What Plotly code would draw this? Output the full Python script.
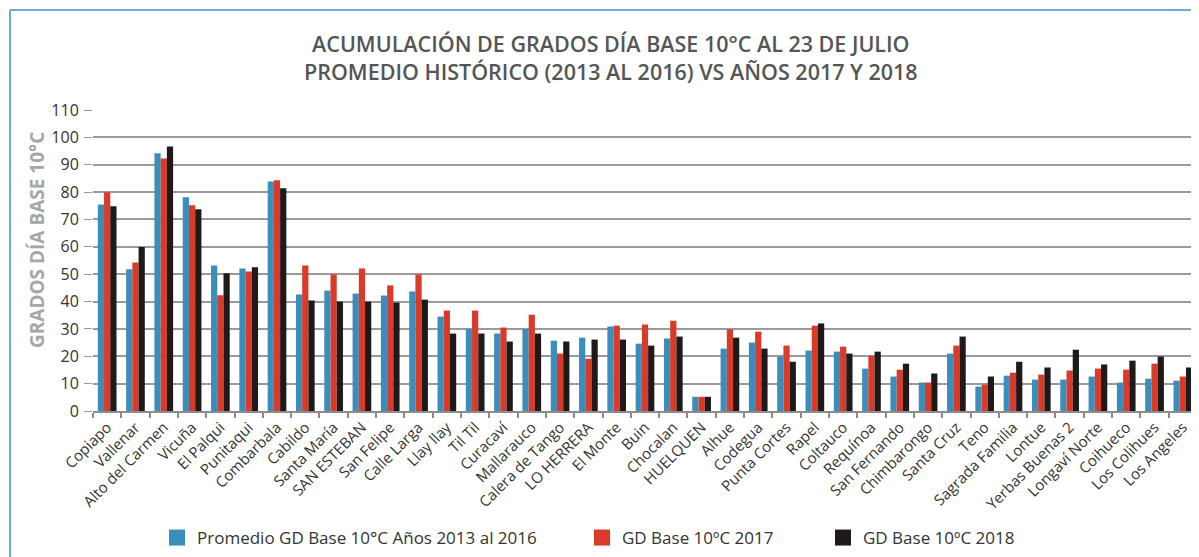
import plotly.graph_objects as go

categories = ["Copiapo", "Vallenar", "Alto del Carmen", "Vicuña", "El Palqui", "Punitaqui",
              "Combarbala", "Cabildo", "Santa María", "SAN ESTEBAN", "San Felipe", "Calle Larga",
              "Llay llay", "Til Til", "Curacaví", "Mallarauco", "Calera de Tango", "LO HERRERA",
              "El Monte", "Buin", "Chocalan", "HUELQUEN", "Alhue", "Codegua", "Punta Cortes",
              "Rapel", "Coltauco", "Requínoa", "San Fernando", "Chimbarongo", "Santa Cruz", "Teno",
              "Sagrada Familia", "Lontue", "Yerbas Buenas 2", "Longaví Norte", "Coihueco",
              "Los Colihues", "Los Angeles"]

promedio_2013_2016 = [75.5, 51.8, 94.2, 78.1, 53.2, 52.1, 83.9, 42.6, 44.0, 42.9, 42.2, 43.7,
                      34.5, 30.0, 28.3, 30.0, 25.7, 26.8, 30.9, 24.6, 26.5, 5.2, 22.8, 25.0, 19.9,
                      22.1, 21.7, 15.5, 12.6, 10.4, 21.0, 8.9, 12.9, 11.5, 11.5, 12.6, 10.4, 11.8, 11.1]
gd_2017 = [79.9, 54.3, 92.3, 75.2, 42.3, 51.0, 84.3, 53.2, 49.9, 52.1, 45.9, 49.9,
           36.7, 36.7, 30.5, 35.2, 21.0, 19.1, 31.2, 31.6, 33.0, 5.2, 29.8, 29.0, 23.9,
           31.2, 23.5, 20.2, 15.1, 10.4, 23.9, 9.6, 14.0, 13.3, 14.8, 15.5, 15.1, 17.3, 12.6]
gd_2018 = [74.8, 59.9, 96.7, 73.7, 50.3, 52.5, 81.4, 40.4, 40.0, 40.0, 39.6, 40.7,
           28.3, 28.3, 25.4, 28.3, 25.4, 26.1, 26.1, 23.9, 27.2, 5.2, 26.8, 22.8, 18.0,
           32.0, 21.0, 21.7, 17.3, 13.7, 27.2, 12.6, 18.0, 15.9, 22.4, 17.0, 18.4, 19.9, 15.9]

series_names = ["Promedio GD Base 10°C Años 2013 al 2016", "GD Base 10ºC 2017", "GD Base 10ºC 2018"]
colors = ["#3a8ebb", "#da3a2a", "#1e1a1a"]
y_ticks = list(range(0, 111, 10))

# The page body has an 8px margin: figure pixel = page pixel - OFF
OFF = 8
W, H = 1191, 549
L, R, T, B = 85, 2, 102, 146
pw, ph = W - L - R, H - T - B

def px_x(x):
    return (x - OFF - L) / pw

def px_y(y):
    return (H - B - (y - OFF)) / ph

fig = go.Figure()
legend_ids = ["legend", "legend2", "legend3"]
for name, vals, col in zip(series_names, [promedio_2013_2016, gd_2017, gd_2018], colors):
    fig.add_trace(go.Bar(x=categories, y=vals, name=name, marker=dict(color=col, line=dict(width=0)),
                         showlegend=False, legendgroup=name))
# legend-only entries (no data) to get larger square swatches
for name, col, lid in zip(series_names, colors, legend_ids):
    fig.add_trace(go.Scatter(x=[None], y=[None], mode="markers", name=name, legendgroup=name,
                             marker=dict(symbol="square", size=16, color=col), legend=lid,
                             showlegend=True))

font = "Open Sans"
leg_common = dict(orientation="h", yanchor="middle", xanchor="left", bgcolor="rgba(0,0,0,0)",
                  font=dict(family=font, size=17, color="#333333"), yref="paper", xref="paper",
                  itemsizing="trace")
fig.update_layout(
    width=W, height=H,
    margin=dict(l=L, r=R, t=T, b=B, autoexpand=False),
    paper_bgcolor="white", plot_bgcolor="white",
    barmode="group", bargap=0.34, bargroupgap=0,
    showlegend=True,
    font=dict(family=font, color="#333333"),
    xaxis=dict(tickangle=-45, tickfont=dict(size=15, color="#333333", family=font),
               showline=True, linecolor="#8c8c8c", linewidth=1.5, automargin=False,
               ticks="outside", ticklen=5, tickcolor="#8c8c8c", tickwidth=1.5,
               showgrid=False, tickson="boundaries"),
    yaxis=dict(range=[0, 110], tickvals=y_ticks, tickfont=dict(size=16, color="#333333", family=font),
               showgrid=True, gridcolor="#9a9a9a", gridwidth=1.5, zeroline=False, automargin=False,
               ticks="outside", ticklen=8, tickcolor="#9a9a9a", ticklabelstandoff=2),
    legend=dict(x=px_x(157), y=px_y(538), **leg_common),
    legend2=dict(x=px_x(582), y=px_y(538), **leg_common),
    legend3=dict(x=px_x(823), y=px_y(538), **leg_common),
    shapes=[
        dict(type="line", xref="paper", yref="paper", x0=px_x(10), x1=px_x(1199), y0=px_y(10), y1=px_y(10),
             line=dict(color="#6aaed6", width=2)),
        dict(type="line", xref="paper", yref="paper", x0=px_x(10), x1=px_x(10), y0=px_y(10), y1=px_y(557),
             line=dict(color="#6aaed6", width=2)),
    ],
    annotations=[
        dict(text="ACUMULACIÓN DE GRADOS DÍA BASE 10°C AL 23 DE JULIO<br>PROMEDIO HISTÓRICO (2013 AL 2016) VS AÑOS 2017 Y 2018",
             xref="paper", yref="paper", x=px_x(611), y=px_y(58), xanchor="center", yanchor="middle",
             showarrow=False, font=dict(family=font, size=21.5, color="#555555", weight=600)),
        dict(text="GRADOS DÍA BASE 10°C", xref="paper", yref="paper", x=px_x(37), y=px_y(240),
             xanchor="center", yanchor="middle", textangle=-90, showarrow=False,
             font=dict(family=font, size=19, color="#a6a6a6", weight=700)),
    ],
)

fig.write_html("out.html")
